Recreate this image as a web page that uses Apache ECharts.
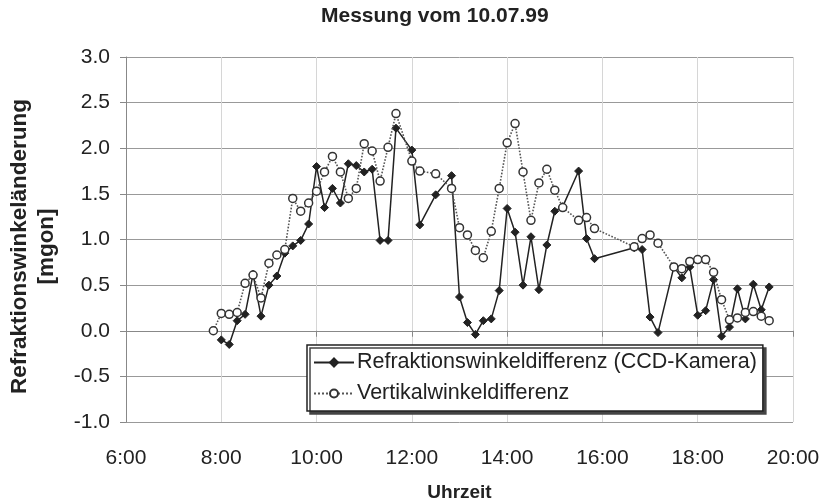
<!DOCTYPE html>
<html><head><meta charset="utf-8">
<script src="https://cdn.jsdelivr.net/npm/echarts@6/dist/echarts.min.js"></script>
<style>html,body{margin:0;padding:0;background:#fff}#c{width:824px;height:502px}</style>
</head><body><div id="c"></div>
<script>
const titleText = "Messung vom 10.07.99";
const xName = "Uhrzeit";
const yName = "Refraktionswinkeländerung\n[mgon]";
const seriesNames = ["Refraktionswinkeldifferenz (CCD-Kamera)", "Vertikalwinkeldifferenz"];
const times = ["7:50","8:00","8:10","8:20","8:30","8:40","8:50","9:00","9:10","9:20",
"9:30","9:40","9:50","10:00","10:10","10:20","10:30","10:40","10:50","11:00",
"11:10","11:20","11:30","11:40","12:00","12:10","12:30","12:50","13:00","13:10",
"13:20","13:30","13:40","13:50","14:00","14:10","14:20","14:30","14:40","14:50",
"15:00","15:10","15:30","15:40","15:50","16:40","16:50","17:00","17:10","17:30",
"17:40","17:50","18:00","18:10","18:20","18:30","18:40","18:50","19:00","19:10",
"19:20","19:30"];
const refrakt = [null,-0.10,-0.15,0.11,0.18,0.62,0.16,0.50,0.60,0.85,
0.93,0.99,1.17,1.80,1.35,1.56,1.40,1.83,1.81,1.74,
1.77,0.99,0.99,2.22,1.98,1.16,1.49,1.70,0.37,0.09,
-0.04,0.11,0.13,0.44,1.34,1.08,0.50,1.03,0.45,0.94,
1.31,1.36,1.75,1.01,0.79,0.91,0.89,0.15,-0.02,0.70,
0.58,0.70,0.17,0.22,0.56,-0.06,0.04,0.46,0.13,0.51,
0.23,0.48];
const vertikal = [0.00,0.19,0.18,0.20,0.52,0.61,0.36,0.74,0.83,0.89,
1.45,1.31,1.40,1.53,1.74,1.91,1.74,1.45,1.56,2.05,
1.97,1.64,2.01,2.38,1.86,1.75,1.72,1.56,1.13,1.05,
0.88,0.80,1.09,1.56,2.06,2.27,1.74,1.21,1.62,1.77,
1.54,1.35,1.21,1.24,1.12,0.92,1.01,1.05,0.96,0.70,
0.68,0.76,0.78,0.78,0.64,0.34,0.12,0.14,0.20,0.21,
0.16,0.11];

function toHours(s){const p=s.split(":");return +p[0]+(+p[1])/60;}
const hrs = times.map(toHours);
const pair = arr => hrs.map((h,i)=> arr[i]==null ? null : [h, arr[i]]).filter(d=>d);

const FONT = "Liberation Sans, Arial, Helvetica, sans-serif";
const TXT = "#222";
const chart = echarts.init(document.getElementById('c'), null, {renderer:'canvas'});
chart.setOption({
  animation:false,
  backgroundColor:'#fff',
  textStyle:{fontFamily:FONT},
  title:{text:titleText, left:316, top:1,
    textStyle:{fontFamily:FONT, fontSize:21, fontWeight:'bold', color:TXT}},
  grid:{left:126, right:31, top:57, bottom:80, containLabel:false, outerBoundsMode:'none'},
  legend:{
    data:seriesNames, orient:'vertical', left:307, top:345,
    padding:[6,6,6,6], itemGap:8, itemWidth:40, itemHeight:10,
    backgroundColor:'#fff', borderColor:'#222', borderWidth:1.5,
    shadowColor:'#444', shadowBlur:0, shadowOffsetX:3, shadowOffsetY:3,
    textStyle:{fontFamily:FONT, fontSize:21.5, color:TXT, lineHeight:23, padding:[0,0,0,-2]}
  },
  xAxis:{type:'value', min:6, max:20, interval:2,
    name:xName, nameLocation:'middle', nameGap:61,
    nameTextStyle:{fontFamily:FONT, fontSize:19, fontWeight:'bold', color:TXT},
    axisLine:{show:true, lineStyle:{color:'#888', width:1}},
    axisTick:{show:true, length:6, lineStyle:{color:'#888'}},
    axisLabel:{fontFamily:FONT, fontSize:21, color:TXT, margin:26,
      formatter:v=>Math.round(v)+":00"},
    splitLine:{show:true, lineStyle:{color:'#d6d6d6', width:1}}
  },
  yAxis:{type:'value', min:-1, max:3, interval:0.5,
    name:yName, nameLocation:'middle', nameGap:66, nameRotate:90,
    nameTextStyle:{fontFamily:FONT, fontSize:22.5, fontWeight:'bold', color:TXT, lineHeight:27,
      padding:[0,14,0,0]},
    axisLine:{show:true, lineStyle:{color:'#888', width:1}},
    axisTick:{show:true, length:6, lineStyle:{color:'#888'}},
    axisLabel:{fontFamily:FONT, fontSize:21, color:TXT, margin:16,
      formatter:v=>v.toFixed(1)},
    splitLine:{show:true, lineStyle:{color:'#999', width:1}}
  },
  series:[
    {name:seriesNames[0], type:'line', data:pair(refrakt), z:3,
      symbol:'diamond', symbolSize:8, showSymbol:true,
      lineStyle:{color:'#222', width:1.5, type:'solid'},
      itemStyle:{color:'#222', borderColor:'#222', borderWidth:1}},
    {name:seriesNames[1], type:'line', data:pair(vertikal), z:4,
      symbol:'circle', symbolSize:8, showSymbol:true,
      lineStyle:{color:'#555', width:1.6, type:'dotted'},
      itemStyle:{color:'#fff', borderColor:'#333', borderWidth:1.5}}
  ]
});
</script></body></html>
